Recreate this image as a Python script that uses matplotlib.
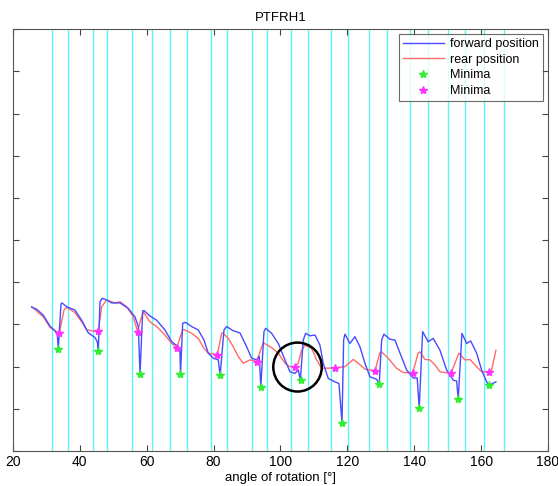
import matplotlib.pyplot as plt
from matplotlib.patches import Ellipse
import numpy as np

plt.rcParams['font.family'] = ['Liberation Sans', 'DejaVu Sans']

# forward position (blue)
fwd_angle = [25.59, 27.09, 29.06, 31.06, 32.56, 33.25, 33.55, 34.35, 34.65, 36.06, 38.54, 40.54,
             42.52, 44.52, 45.21, 45.51, 46.02, 46.70, 48.02, 49.52, 52.00, 54.48, 56.48, 57.47,
             58.00, 58.79, 59.17, 60.97, 62.97, 65.45, 67.46, 69.43, 69.94, 70.10, 70.75, 71.64,
             73.44, 75.41, 77.12, 78.40, 79.90, 81.39, 81.95, 83.10, 83.90, 85.88, 87.88, 89.89,
             91.38, 92.88, 93.65, 94.12, 95.06, 95.57, 97.36, 99.34, 101.34, 102.83, 104.33, 105.32,
             105.95, 106.81, 107.53, 108.82, 110.31, 111.81, 112.79, 114.29, 116.29, 117.49, 118.40,
             118.89, 119.28, 120.78, 122.27, 123.77, 125.26, 126.76, 128.76, 129.54, 130.26, 130.94,
             132.74, 134.23, 137.73, 139.71, 140.90, 141.50, 142.51, 144.19, 145.68, 147.69, 149.69,
             151.67, 152.68, 153.16, 154.27, 155.67, 156.87, 158.67, 160.16, 161.66, 162.44, 164.44]
fwd_value = [3.41, 3.36, 3.22, 2.96, 2.85, 2.75, 2.42, 3.48, 3.51, 3.42, 3.34, 3.10,
             2.80, 2.69, 2.59, 2.37, 3.54, 3.62, 3.58, 3.51, 3.51, 3.38, 3.18, 2.95,
             1.83, 3.32, 3.33, 3.20, 3.10, 2.87, 2.59, 2.47, 2.39, 1.83, 3.03, 3.05,
             2.95, 2.87, 2.63, 2.32, 2.20, 2.16, 1.79, 2.87, 2.95, 2.85, 2.80, 2.47,
             2.20, 2.16, 2.24, 1.52, 2.83, 2.91, 2.79, 2.55, 2.16, 1.88, 1.84, 1.92,
             1.68, 2.63, 2.79, 2.73, 2.75, 2.51, 2.08, 1.72, 1.64, 1.60, 0.67,
             2.63, 2.77, 2.55, 2.71, 2.47, 2.08, 1.76, 1.70, 1.59, 2.63, 2.77,
             2.65, 2.63, 1.92, 1.73, 1.73, 1.01, 2.83, 2.59, 2.67, 2.39, 1.92,
             1.68, 1.66, 1.23, 2.79, 2.55, 2.61, 2.32, 1.92, 1.64, 1.56, 1.64]

# rear position (red)
rear_angle = [25.59, 29.06, 31.06, 32.56, 33.85, 35.25, 36.06, 38.54, 40.54, 42.04, 44.01, 45.51,
              46.52, 48.02, 50.50, 52.00, 54.00, 55.97, 57.29, 57.98, 58.96, 60.97, 62.97, 65.45,
              67.46, 68.95, 70.75, 71.14, 73.44, 75.41, 77.12, 78.40, 81.09, 82.41, 82.71, 84.38,
              85.88, 87.37, 88.87, 90.87, 92.88, 94.85, 97.36, 99.34, 101.34, 102.83, 104.33, 105.32,
              106.33, 107.32, 109.32, 110.82, 112.31, 116.29, 119.28, 121.76, 123.26, 125.26, 128.25,
              129.75, 130.26, 132.23, 134.74, 136.71, 139.53, 141.20, 141.71, 143.21, 144.70, 146.20,
              147.69, 150.98, 153.37, 155.17, 156.66, 158.16, 160.16, 162.44, 163.15, 164.44]
rear_value = [3.42, 3.18, 2.93, 2.85, 2.80, 3.34, 3.41, 3.28, 3.06, 2.88, 2.84, 2.84,
              3.42, 3.58, 3.51, 3.54, 3.42, 3.18, 2.83, 3.06, 3.30, 3.06, 2.95, 2.75,
              2.55, 2.45, 2.87, 2.88, 2.79, 2.67, 2.43, 2.32, 2.28, 2.79, 2.80, 2.67,
              2.47, 2.24, 2.08, 2.16, 2.12, 2.57, 2.45, 2.32, 2.08, 2.00, 2.00, 2.08,
              2.39, 2.51, 2.43, 2.16, 1.96, 1.97, 2.00, 2.17, 2.08, 1.94, 1.90,
              2.33, 2.35, 2.20, 1.96, 1.86, 1.86, 2.32, 2.35, 2.17, 2.16, 2.04,
              1.88, 1.84, 2.32, 2.16, 2.17, 2.04, 1.88, 1.88, 1.92, 2.39]

# minima markers
fwd_min_angle = [33.55, 45.51, 58.07, 70.03, 81.99, 94.16, 106.03, 118.47, 129.54, 141.50, 153.16, 162.44]
fwd_min_value = [2.42, 2.37, 1.83, 1.83, 1.79, 1.52, 1.68, 0.67, 1.59, 1.01, 1.23, 1.56]
rear_min_angle = [33.85, 45.51, 57.29, 68.95, 81.09, 92.88, 104.33, 116.29, 128.25, 139.53, 150.98, 162.44]
rear_min_value = [2.80, 2.84, 2.83, 2.45, 2.28, 2.12, 2.00, 1.97, 1.90, 1.86, 1.84, 1.88]

# cyan markers of the cycle boundaries
boundaries = [31.75, 36.5, 44.0, 48.0, 55.6, 61.7, 67.0, 72.0, 79.1, 84.1, 91.6, 96.0,
              103.1, 108.2, 115.0, 120.1, 126.5, 131.9, 138.7, 144.0, 150.0, 155.1, 160.9, 166.9]

fig = plt.figure(figsize=(5.58, 4.86), dpi=100)
ax = fig.add_axes([0.0233, 0.072, 0.9587, 0.868])

for b in boundaries:
    ax.axvline(b, color='#5ff5f5', lw=1.0, zorder=1)

ax.plot(fwd_angle, fwd_value, color='#4a4aff', lw=1.0, label='forward position', zorder=3)
ax.plot(rear_angle, rear_value, color='#ff6a6a', lw=1.0, label='rear position', zorder=2)
ax.plot(fwd_min_angle, fwd_min_value, '*', color='#33ee33', ms=6, label='Minima', zorder=4)
ax.plot(rear_min_angle, rear_min_value, '*', color='#ff33ff', ms=6, label='Minima', zorder=4)

# highlighted spot
ax.add_patch(Ellipse((105.1, 1.99), 14.5, 1.16, fill=False, ec='black', lw=1.8, zorder=5))

ax.set_xlim(20, 180)
ax.set_ylim(0, 10)
ax.set_xticks(np.arange(20, 181, 20))
ax.set_yticks(np.arange(0, 11, 1))
ax.set_yticklabels([])
ax.tick_params(direction='in', length=4, top=True, right=True, labelsize=10, colors='#444444',
               labelcolor='black', pad=3)
for s in ax.spines.values():
    s.set_color('#555555')

ax.set_title('PTFRH1', fontsize=9.5, pad=6)
ax.set_xlabel('angle of rotation [°]', fontsize=9.5, labelpad=2)

leg = ax.legend(loc='upper right', fontsize=9, frameon=True, fancybox=False, borderaxespad=0.4,
                handlelength=3.3, handletextpad=0.5, borderpad=0.3, labelspacing=0.3)
leg.get_frame().set_edgecolor('#444444')
leg.get_frame().set_linewidth(0.8)

fig.savefig('out.png', dpi=100)
